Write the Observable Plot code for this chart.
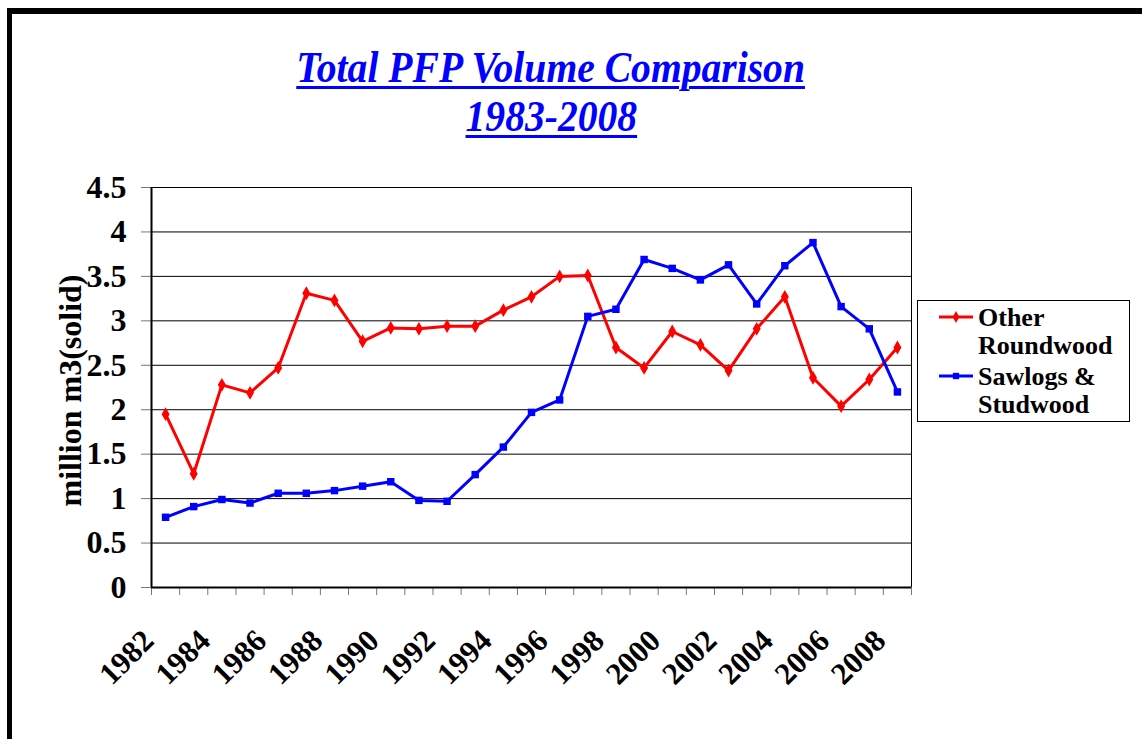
<!DOCTYPE html>
<html><head><meta charset="utf-8">
<script src="https://cdn.jsdelivr.net/npm/d3@7"></script>
<script src="https://cdn.jsdelivr.net/npm/@observablehq/plot@0.6"></script>
<style>
body{margin:0;background:#fff;}
#wrap{position:relative;width:1142px;height:739px;overflow:hidden;font-family:"Liberation Serif","Times New Roman",serif;background:#fff;}
#border{position:absolute;left:7px;top:8px;right:-10px;bottom:-10px;border-top:6px solid #000;border-left:5px solid #000;pointer-events:none;}
#title{position:relative;height:160px;box-sizing:border-box;padding-top:43px;width:1102px;text-align:center;color:#0000ff;font-weight:bold;font-style:italic;font-size:44px;line-height:49px;}
#title div span{display:inline-block;transform:scaleX(0.9);text-decoration:underline;text-decoration-thickness:3px;text-underline-offset:4px;}
#chart svg{display:block;}
#legend{position:absolute;left:917px;top:300px;width:213px;height:122px;box-sizing:border-box;border:1px solid #000;padding:3px 0 0 21px;font-weight:bold;font-size:26px;line-height:28px;color:#000;background:#fff;}
#legend .item{display:flex;align-items:flex-start;margin-bottom:3px;}
#legend .item svg{flex:none;margin-right:5px;}
#legend .lbl{width:150px;}
</style>
</head><body>
<div id="wrap">
  <div id="title"></div>
  <div id="chart"></div>
  <div id="legend"></div>
  <div id="border"></div>
</div>
<script>
const titleLines = ["Total PFP Volume Comparison", "1983-2008"];
const yLabel = "million m3(solid)";
const years = [1982,1983,1984,1985,1986,1987,1988,1989,1990,1991,1992,1993,1994,1995,1996,1997,1998,1999,2000,2001,2002,2003,2004,2005,2006,2007,2008];
const labelYears = [1982,1984,1986,1988,1990,1992,1994,1996,1998,2000,2002,2004,2006,2008];
const yTicks = [0,0.5,1,1.5,2,2.5,3,3.5,4,4.5];
const seriesNames = ["Other Roundwood", "Sawlogs & Studwood"];
const seriesColors = ["#ff0000", "#0000ff"];
const seriesSymbols = ["diamond", "square"];
const otherRoundwood = [1.95,1.28,2.28,2.19,2.47,3.31,3.23,2.77,2.92,2.91,2.94,2.94,3.12,3.27,3.50,3.51,2.70,2.47,2.88,2.73,2.44,2.91,3.27,2.36,2.04,2.34,2.70];
const sawlogsStudwood = [0.79,0.91,0.99,0.95,1.06,1.06,1.09,1.14,1.19,0.98,0.97,1.27,1.58,1.97,2.11,3.05,3.13,3.69,3.59,3.46,3.63,3.19,3.62,3.88,3.16,2.91,2.20];

// title
const titleEl = document.getElementById("title");
titleLines.forEach(t => {
  const d = document.createElement("div");
  const s = document.createElement("span");
  s.textContent = t;
  d.appendChild(s);
  titleEl.appendChild(d);
});

const seriesValues = [otherRoundwood, sawlogsStudwood];
const rows = seriesValues.map((vals, k) => years.map((yr, i) => ({year: yr, value: vals[i], series: seriesNames[k]})));
const xDomain = [years[0] - 0.5, years[years.length - 1] + 0.5];
const boundaries = years.map(y => y - 0.5).concat([xDomain[1]]);

const font = '"Liberation Serif", "Times New Roman", serif';
const marks = [
  Plot.gridY(yTicks, {stroke: "#000", strokeOpacity: 1, strokeWidth: 1}),
  Plot.ruleX([xDomain[1]], {stroke: "#000", strokeWidth: 1}),
  Plot.axisY(yTicks, {tickSize: 10, tickPadding: 15, tickFormat: d => String(d), fontSize: 32, fontWeight: "bold", stroke: "#777", fill: "#000", label: null}),
  Plot.axisX(boundaries, {tickSize: 8, tickFormat: () => "", stroke: "#777", label: null}),
  Plot.text(labelYears, {x: d => d, text: d => String(d), frameAnchor: "bottom", rotate: -45, textAnchor: "end", lineAnchor: "bottom", dx: -10, dy: 55, fontSize: 31, fontWeight: "bold", fill: "#000"}),
  Plot.text([yLabel], {text: d => d, frameAnchor: "left", rotate: -90, dx: -71, dy: 3, lineAnchor: "bottom", textAnchor: "middle", fontSize: 32, fontWeight: "bold", fill: "#000"}),
];
rows.forEach((r, k) => {
  marks.push(Plot.line(r, {x: "year", y: "value", stroke: seriesColors[k], strokeWidth: 3}));
  marks.push(Plot.dot(r, {x: "year", y: "value", symbol: seriesSymbols[k], r: 4.2, fill: seriesColors[k], stroke: "none"}));
});
marks.push(Plot.ruleY([0], {stroke: "#000", strokeWidth: 2}));
marks.push(Plot.ruleX([xDomain[0]], {stroke: "#000", strokeWidth: 2}));

const chart = Plot.plot({
  width: 1142, height: 579,
  marginLeft: 151, marginRight: 231, marginTop: 27, marginBottom: 152,
  style: {fontFamily: font, background: "transparent", overflow: "visible"},
  x: {type: "linear", domain: xDomain, axis: null},
  y: {type: "linear", domain: [0, 4.5], axis: null},
  marks
});
document.getElementById("chart").appendChild(chart);

// legend
const leg = document.getElementById("legend");
seriesNames.forEach((name, k) => {
  const item = document.createElement("div");
  item.className = "item";
  const ns = "http://www.w3.org/2000/svg";
  const svg = document.createElementNS(ns, "svg");
  svg.setAttribute("width", 34); svg.setAttribute("height", 28);
  const ln = document.createElementNS(ns, "line");
  ln.setAttribute("x1", 0); ln.setAttribute("x2", 34); ln.setAttribute("y1", 13); ln.setAttribute("y2", 13);
  ln.setAttribute("stroke", seriesColors[k]); ln.setAttribute("stroke-width", 3);
  svg.appendChild(ln);
  const p = document.createElementNS(ns, "path");
  const sym = k === 0 ? d3.symbolDiamond : d3.symbolSquare;
  p.setAttribute("d", d3.symbol(sym, 40)());
  p.setAttribute("transform", "translate(17,13)");
  p.setAttribute("fill", seriesColors[k]);
  svg.appendChild(p);
  item.appendChild(svg);
  const lbl = document.createElement("div");
  lbl.className = "lbl";
  lbl.textContent = name;
  item.appendChild(lbl);
  leg.appendChild(item);
});
</script>
</body></html>
